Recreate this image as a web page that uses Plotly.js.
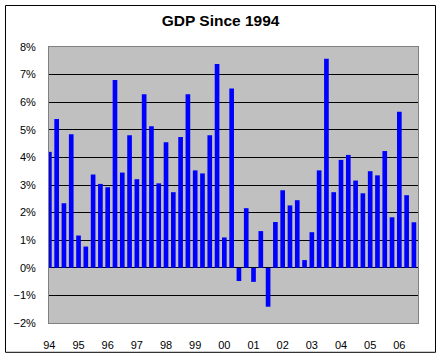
<!DOCTYPE html>
<html>
<head>
<meta charset="utf-8">
<script src="https://cdn.plot.ly/plotly-3.0.1.min.js"></script>
<style>html,body{margin:0;padding:0;background:#fff;}#chart{width:443px;height:359px;}</style>
</head>
<body>
<div id="chart"></div>
<script>
// Quarterly GDP growth (%), 1994 Q1 .. 2006 Q3
var quarters = [];
var startYear = 1994;
for (var i = 0; i < 51; i++) { quarters.push((startYear + Math.floor(i / 4)) + ' Q' + (i % 4 + 1)); }
var gdp = [4.20, 5.39, 2.34, 4.84, 1.17, 0.77, 3.38, 3.04, 2.92, 6.80,
           3.45, 4.80, 3.21, 6.29, 5.13, 3.06, 4.55, 2.74, 4.74, 6.29,
           3.53, 3.42, 4.80, 7.38, 1.10, 6.50, -0.48, 2.16, -0.51, 1.33,
           -1.41, 1.66, 2.81, 2.26, 2.45, 0.28, 1.29, 3.53, 7.57, 2.74,
           3.91, 4.09, 3.16, 2.70, 3.50, 3.35, 4.23, 1.83, 5.65, 2.63,
           1.65];
var yearLabels = ['94','95','96','97','98','99','00','01','02','03','04','05','06'];
var yearTickPos = yearLabels.map(function(_, k){ return quarters.indexOf((startYear + k) + ' Q1'); });
var xIdx = quarters.map(function(_, i){ return i; });

var trace = {
  type: 'bar', x: xIdx, y: gdp, width: 0.64,
  marker: {color: '#0000FF', line: {width: 0}},
  hoverinfo: 'skip'
};
var layout = {
  width: 443, height: 359,
  margin: {l: 49, r: 25, t: 47, b: 36, pad: 0},
  paper_bgcolor: '#FFFFFF', plot_bgcolor: '#C0C0C0',
  showlegend: false,
  font: {family: 'Liberation Sans, Arial, sans-serif', size: 11, color: '#000'},
  title: {text: '<b>GDP Since 1994</b>', font: {size: 15.5, color: '#000'}, x: 0.498, xanchor: 'center', y: 0.944, yanchor: 'middle', xref: 'container', yref: 'container'},
  xaxis: {
    range: [-0.05, 50.56], tickmode: 'array', tickvals: yearTickPos, ticktext: yearLabels,
    showgrid: false, zeroline: false, ticks: '', showline: true, mirror: true,
    linecolor: '#808080', linewidth: 1, ticklabelstandoff: 12, fixedrange: true
  },
  yaxis: {
    range: [-2, 8], dtick: 1, ticksuffix: '%', showgrid: true, gridcolor: '#000000', gridwidth: 1,
    zeroline: true, zerolinecolor: '#000000', zerolinewidth: 1, ticks: '',
    showline: true, mirror: true, linecolor: '#808080', linewidth: 1,
    ticklabelstandoff: 10, fixedrange: true
  },
  shapes: [{
    type: 'rect', xref: 'paper', yref: 'paper',
    x0: -0.1179, x1: 1.0474, y0: -0.1062, y1: 1.1504,
    line: {color: '#000000', width: 1}, fillcolor: 'rgba(0,0,0,0)', layer: 'above'
  }]
};
Plotly.newPlot('chart', [trace], layout, {displayModeBar: false, staticPlot: true});
</script>
</body>
</html>
